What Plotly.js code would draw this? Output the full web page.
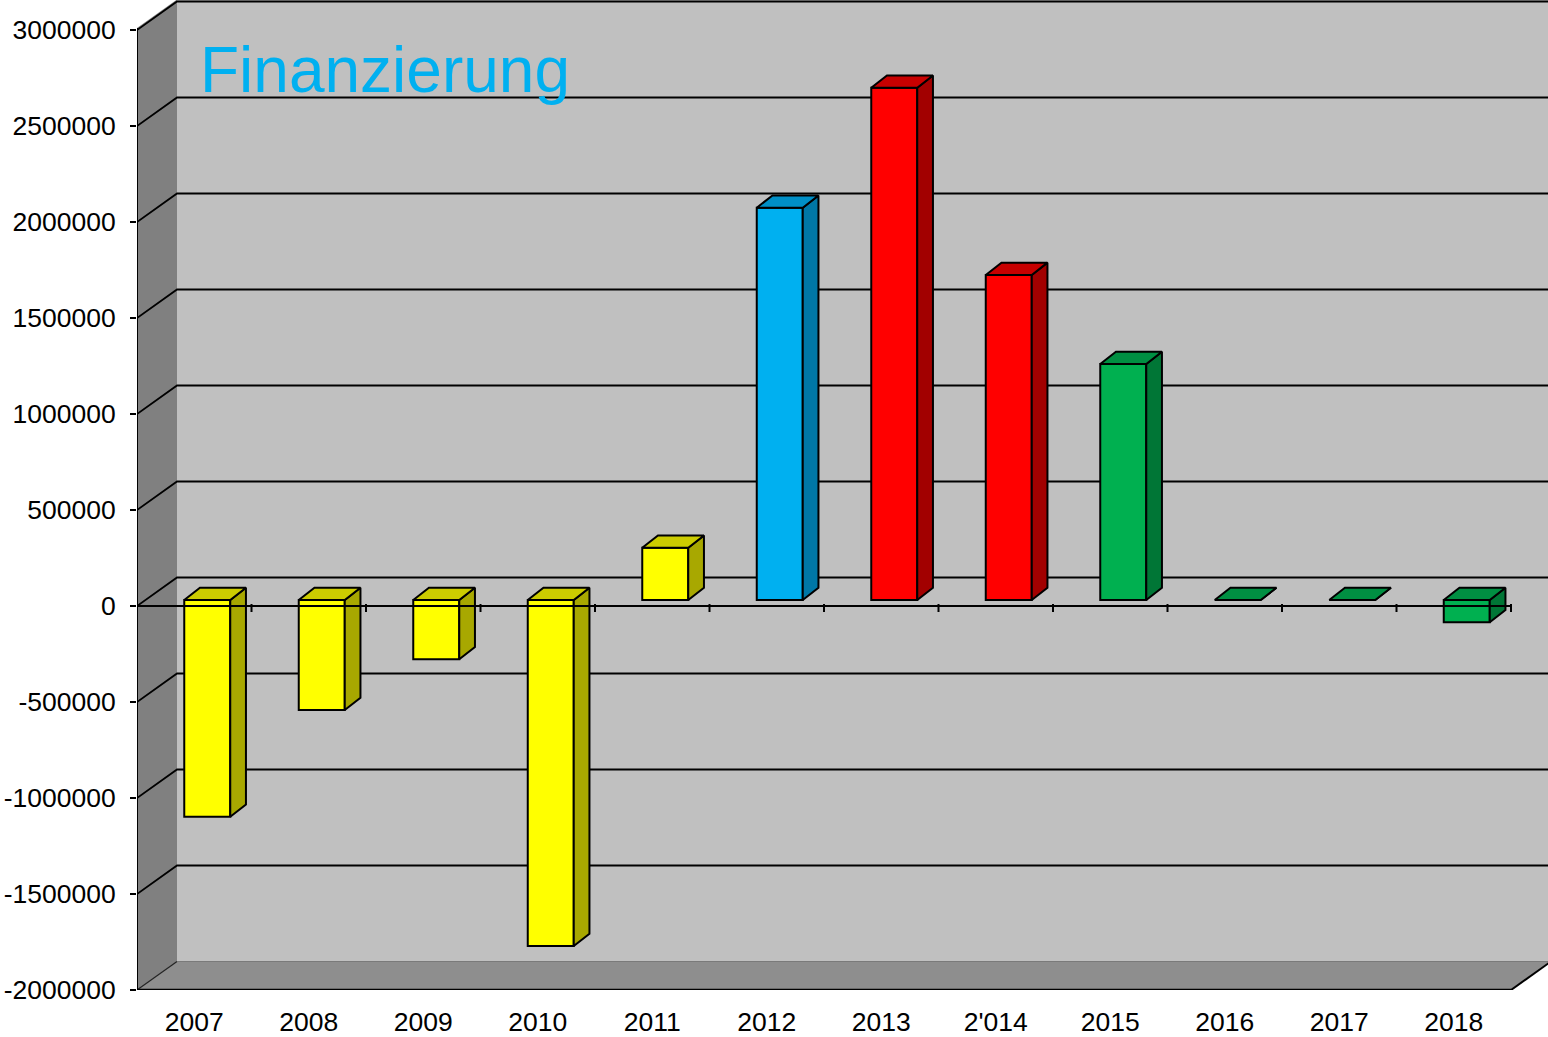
<!DOCTYPE html>
<html><head><meta charset="utf-8">
<script src="https://cdn.plot.ly/plotly-3.0.1.min.js"></script>
<style>html,body{margin:0;padding:0;background:#fff}#chart{width:1548px;height:1037px}</style>
</head><body><div id="chart"></div>
<script>
// ---- data ----
const years = ['2007','2008','2009','2010','2011','2012','2013',"2'014",'2015','2016','2017','2018'];
const values = [-1129000,-573000,-309000,-1802000,272000,2043000,2668000,1693000,1229000,0,0,-116000];
const yTickVals = [-2000000,-1500000,-1000000,-500000,0,500000,1000000,1500000,2000000,2500000,3000000];
const yTickLabels = ['-2000000','-1500000','-1000000','-500000','0','500000','1000000','1500000','2000000','2500000','3000000'];
const colorGroup = ['yellow','yellow','yellow','yellow','yellow','blue','red','red','green','green','green','green'];
const chartTitle = 'Finanzierung';

// ---- styles ----
const palette = {
  yellow:{front:'#FFFF00', top:'#CCCC00', side:'#A8A800'},
  blue:{front:'#00B0F0', top:'#008FC6', side:'#0077A6'},
  red:{front:'#FF0000', top:'#C80000', side:'#A20000'},
  green:{front:'#00B050', top:'#008F42', side:'#007636'}
};
const FONT = 'Liberation Sans, Arial, sans-serif';
const W = 1548, H = 1037, L = 137, B = 47;
const plotW = W - L, plotH = H - B;
const PX_X = 114.5;          // px per category
const PX_Y = 192 / 1e6;      // px per value unit
const xMin = -0.5, xMax = xMin + plotW / PX_X;
const yMin = -2000000, yMax = yMin + plotH / PX_Y;
const ux = p => p / PX_X;
const uy = p => p / PX_Y;
const n = years.length;
const xEnd = n - 0.5;

// wall depth
const WX = ux(40), WY = uy(28.5);
// bar geometry
const BFX = ux(13), BFY = uy(6), BW = ux(46), BDX = ux(15.7), BDY = uy(12.3);

const traces = [];
// front faces
traces.push({
  type:'bar', x: years.map((_, i) => i + BFX), y: values,
  base: values.map(() => BFY), width: BW,
  marker:{color: colorGroup.map(g => palette[g].front), line:{color:'#000', width:2}},
  hoverinfo:'skip', showlegend:false
});
// top & side faces
values.forEach((v, i) => {
  const c = palette[colorGroup[i]];
  const xl = i + BFX - BW/2, xr = i + BFX + BW/2;
  const t = Math.max(v, 0) + BFY, b = Math.min(v, 0) + BFY;
  traces.push({
    type:'scatter', mode:'lines', fill:'toself', fillcolor:c.side,
    x:[xr, xr, xr+BDX, xr+BDX, xr], y:[b, t, t+BDY, b+BDY, b],
    line:{color:'#000', width:2}, hoverinfo:'skip', showlegend:false
  });
  traces.push({
    type:'scatter', mode:'lines', fill:'toself', fillcolor:c.top,
    x:[xl, xr, xr+BDX, xl+BDX, xl], y:[t, t, t+BDY, t+BDY, t],
    line:{color:'#000', width:2}, hoverinfo:'skip', showlegend:false
  });
});
// front zero axis with tick marks
const zx = [xMin, xEnd, null], zy = [0, 0, null];
for (let k = 0; k < n; k++) { zx.push(k + 0.5, k + 0.5, null); zy.push(uy(2), -uy(6), null); }
traces.push({type:'scatter', mode:'lines', x:zx, y:zy, line:{color:'#000', width:2},
  hoverinfo:'skip', showlegend:false, connectgaps:false});

// walls & gridlines
const shapes = [];
shapes.push({type:'rect', xref:'x', yref:'y', x0:xMin+WX, x1:xMax+1, y0:yMin+WY, y1:yMax+1e6,
  fillcolor:'#C0C0C0', line:{width:0}, layer:'below'});
shapes.push({type:'path', xref:'x', yref:'y', layer:'below', fillcolor:'#808080', line:{width:0},
  path:`M ${xMin},${yMin} L ${xMin},${3000000+uy(2)} L ${xMin+WX},${3000000+WY+uy(2)} L ${xMin+WX},${yMin+WY} Z`});
shapes.push({type:'path', xref:'x', yref:'y', layer:'below', fillcolor:'#8E8E8E', line:{width:0},
  path:`M ${xMin},${yMin} L ${xMin+WX},${yMin+WY} L ${xEnd+WX},${yMin+WY} L ${xEnd},${yMin} Z`});
yTickVals.forEach(v => {
  if (v === yMin) {
    shapes.push({type:'path', xref:'x', yref:'y', layer:'below', line:{color:'#222', width:1.2},
      path:`M ${xMin},${v} L ${xMin+WX},${v+WY}`});
    shapes.push({type:'path', xref:'x', yref:'y', layer:'below', line:{color:'#7a7a7a', width:1},
      path:`M ${xMin+WX},${v+WY} L ${xMax+1},${v+WY}`});
  } else {
    shapes.push({type:'path', xref:'x', yref:'y', layer:'below', line:{color:'#000', width:1.8},
      path:`M ${xMin},${v} L ${xMin+WX},${v+WY} L ${xMax+1},${v+WY}`});
  }
});
// front edges
shapes.push({type:'line', xref:'x', yref:'y', x0:xMin, x1:xMin, y0:yMin, y1:3000000+uy(2), line:{color:'#000', width:2}, layer:'above'});
shapes.push({type:'line', xref:'x', yref:'y', x0:xMin, x1:xEnd, y0:yMin, y1:yMin, line:{color:'#000', width:2.5}, layer:'above'});
shapes.push({type:'line', xref:'x', yref:'y', x0:xEnd, x1:xEnd+WX, y0:yMin, y1:yMin+WY, line:{color:'#000', width:2}, layer:'above'});

const layout = {
  width:W, height:H, margin:{l:L, r:0, t:0, b:B, pad:0},
  paper_bgcolor:'#fff', plot_bgcolor:'#fff', showlegend:false,
  title:{text:chartTitle, font:{family:FONT, size:64, color:'#00B0F0'},
    x:200/W, xanchor:'left', xref:'container', y:1-47/H, yanchor:'top', yref:'container'},
  xaxis:{range:[xMin, xMax], tickvals:years.map((_, i) => i), ticktext:years, ticks:'',
    showgrid:false, zeroline:false, showline:false, fixedrange:true,
    tickfont:{family:FONT, size:26.5, color:'#000'}, ticklabelstandoff:13},
  yaxis:{range:[yMin, yMax], tickvals:yTickVals, ticktext:yTickLabels, ticks:'outside', ticklen:6,
    tickwidth:1.5, tickcolor:'#000', showgrid:false, zeroline:false, showline:false, fixedrange:true,
    tickfont:{family:FONT, size:26.5, color:'#000'}, ticklabelstandoff:9},
  shapes:shapes, bargap:0
};
Plotly.newPlot('chart', traces, layout, {displayModeBar:false, staticPlot:true});
</script></body></html>
